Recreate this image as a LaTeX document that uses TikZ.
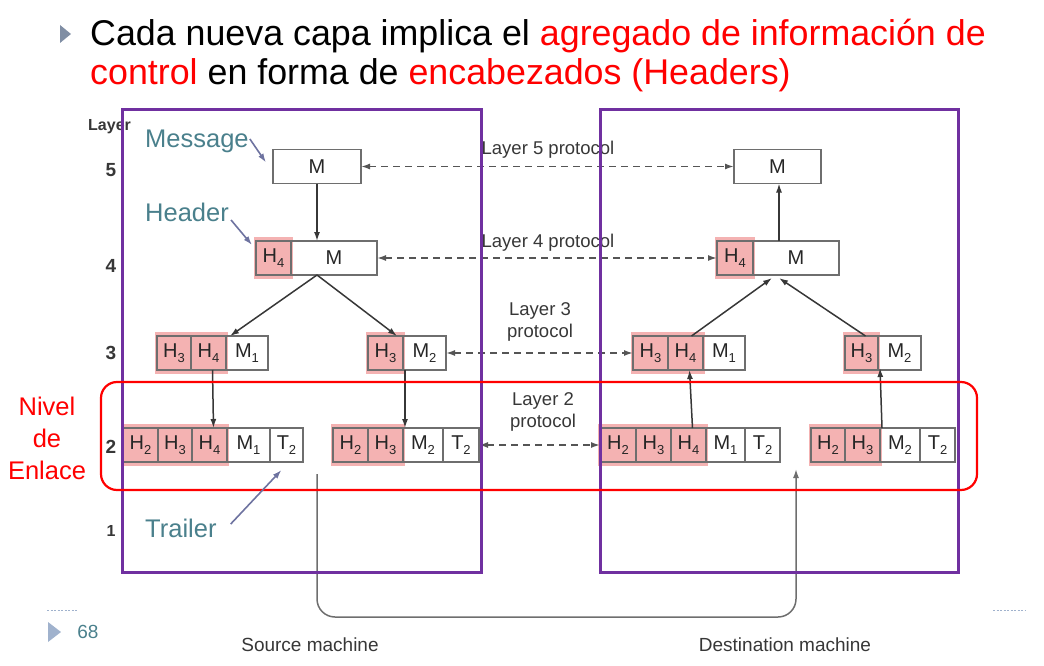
\documentclass[tikz,border=0pt]{standalone}
\usepackage{fontspec}
\setmainfont{Liberation Sans}
\usetikzlibrary{arrows.meta,backgrounds}

\definecolor{framepurple}{RGB}{112,48,160}
\definecolor{notered}{RGB}{255,0,0}
\definecolor{noteteal}{RGB}{74,128,140}
\definecolor{notearrow}{RGB}{110,115,160}
\definecolor{hlpink}{RGB}{244,178,178}
\definecolor{cellgray}{RGB}{110,110,110}
\definecolor{inkgray}{RGB}{55,55,55}
\definecolor{footblue}{RGB}{160,178,205}

\newcommand\sub[1]{\raisebox{-0.45ex}{\fontsize{13}{13}\selectfont #1}}
% plain cell: name, left x, right x, centre y, text
\newcommand\cellbox[5]{\node[cell,minimum width={#3pt-#2pt}] (#1) at ({(#2+#3)/2},#4) {#5};}
% header cell with pink highlight behind it
\newcommand\hdbox[5]{\cellbox{#1}{#2}{#3}{#4}{#5}%
  \begin{scope}[on background layer]
    \fill[hlpink] ([shift={(-2pt,4pt)}]#1.north west) rectangle ([shift={(2pt,-4pt)}]#1.south east);
  \end{scope}}

\tikzset{
  cell/.style={draw=cellgray, line width=1.8pt, minimum height=34pt, inner sep=0pt,
    outer sep=0pt, font=\fontsize{20}{20}\selectfont, text=black!85},
  flow/.style={draw=inkgray, line width=1.5pt, -{Latex[length=9pt,width=6pt]}},
  peer/.style={draw=inkgray!85, line width=1.6pt, dash pattern=on 7pt off 5pt,
    {Latex[length=9pt,width=6pt]}-{Latex[length=9pt,width=6pt]}},
  proto/.style={font=\fontsize{18.5}{22}\selectfont, text=inkgray, align=center},
  laynum/.style={font=\fontsize{19}{19}\selectfont\bfseries, text=inkgray},
  note/.style={font=\fontsize{25.5}{25.5}\selectfont, text=noteteal, inner sep=0pt},
  notearr/.style={draw=notearrow, line width=1.6pt, -{Latex[length=9pt,width=6pt]}},
  machine/.style={draw=framepurple, line width=3pt},
}

\begin{document}
\begin{tikzpicture}[x=1pt,y=-1pt]
\useasboundingbox (0,0) rectangle (1044,666);

% title bullet and text
\fill[footblue!80!black] (60,25) -- (71,34) -- (60,43) -- cycle;
\node[anchor=base west, inner sep=0pt, font=\fontsize{35.8}{35.8}\selectfont] (t1) at (90,46)
  {Cada nueva capa implica el \textcolor{notered}{agregado de información de}};
\node[anchor=base west, inner sep=0pt, font=\fontsize{35.8}{35.8}\selectfont] (t2) at (90,85)
  {\textcolor{notered}{control} en forma de \textcolor{notered}{encabezados (Headers)}};

% layer numbers
\node[laynum, anchor=west, inner sep=0pt, font=\fontsize{16}{16}\selectfont\bfseries] (lay) at (88,127) {Layer};
\node[laynum] (n5) at (111,170) {5};
\node[laynum] (n4) at (111,266) {4};
\node[laynum] (n3) at (111,353) {3};
\node[laynum] (n2) at (111,447) {2};
\node[laynum, font=\fontsize{16}{16}\selectfont\bfseries] (n1) at (111,531) {1};

% source machine stack
\cellbox{s5}{273}{361}{166.5}{M}
\hdbox{s4h}{256}{291}{258}{H\sub{4}}
\cellbox{s4m}{291}{377}{258}{M}
\hdbox{s3a3}{157}{191}{353}{H\sub{3}}
\hdbox{s3a4}{191}{226}{353}{H\sub{4}}
\cellbox{s3am}{226}{268}{353}{M\sub{1}}
\hdbox{s3b3}{368}{403}{353}{H\sub{3}}
\cellbox{s3bm}{403}{446}{353}{M\sub{2}}
\hdbox{s2a2}{123}{158}{445}{H\sub{2}}
\hdbox{s2a3}{158}{192}{445}{H\sub{3}}
\hdbox{s2a4}{192}{227}{445}{H\sub{4}}
\cellbox{s2am}{227}{270}{445}{M\sub{1}}
\cellbox{s2at}{270}{303}{445}{T\sub{2}}
\hdbox{s2b2}{333}{368}{445}{H\sub{2}}
\hdbox{s2b3}{368}{403}{445}{H\sub{3}}
\cellbox{s2bm}{403}{443}{445}{M\sub{2}}
\cellbox{s2bt}{443}{479}{445}{T\sub{2}}

% destination machine stack
\cellbox{d5}{734}{821}{166.5}{M}
\hdbox{d4h}{717}{753}{258}{H\sub{4}}
\cellbox{d4m}{753}{839}{258}{M}
\hdbox{d3a3}{633}{668}{353}{H\sub{3}}
\hdbox{d3a4}{668}{703}{353}{H\sub{4}}
\cellbox{d3am}{703}{745}{353}{M\sub{1}}
\hdbox{d3b3}{845}{878}{353}{H\sub{3}}
\cellbox{d3bm}{878}{921}{353}{M\sub{2}}
\hdbox{d2a2}{600}{636}{445}{H\sub{2}}
\hdbox{d2a3}{636}{671}{445}{H\sub{3}}
\hdbox{d2a4}{671}{706}{445}{H\sub{4}}
\cellbox{d2am}{706}{745}{445}{M\sub{1}}
\cellbox{d2at}{745}{780}{445}{T\sub{2}}
\hdbox{d2b2}{811}{845}{445}{H\sub{2}}
\hdbox{d2b3}{845}{880}{445}{H\sub{3}}
\cellbox{d2bm}{880}{920}{445}{M\sub{2}}
\cellbox{d2bt}{920}{955}{445}{T\sub{2}}

% downward flow in the source machine
\coordinate (sfork) at (s5.south |- s4m.south);
\draw[flow] (s5.south) -- (s5.south |- s4m.north);
\draw[flow] (sfork) -- ([xshift=4pt]s3a4.north east);
\draw[flow] (sfork) -- ([xshift=-6pt]s3b3.north east);
\draw[flow] ([xshift=4pt]s3a4.south) -- ([xshift=4pt]s2a4.north);
\draw[flow] ([xshift=2pt]s3b3.south east) -- ([xshift=2pt]s2b3.north east);

% upward flow in the destination machine
\coordinate (dforkl) at ([xshift=19pt,yshift=-3pt]d4m.south west);
\coordinate (dforkr) at ([xshift=26pt,yshift=-3pt]d4m.south west);
\draw[flow] ([xshift=4pt]d2a4.north) -- ([xshift=4pt]d3a4.south);
\draw[flow] ([xshift=2pt]d2b3.north east) -- ([xshift=2pt,yshift=2pt]d3b3.south east);
\draw[flow] ([xshift=6pt]d3a4.north) -- (dforkl);
\draw[flow] ([xshift=4pt]d3b3.north) -- (dforkr);
\draw[flow] (dforkr |- d4m.north) -- (dforkr |- d5.south);

% peer protocols
\draw[peer] (s5.east) -- (d5.west);
\draw[peer] (s4m.east) -- (d4h.west);
\draw[peer] (s3bm.east) -- (d3a3.west);
\draw[peer] (s2bt.east) -- (d2a2.west);
\node[proto] (p5) at (548,150) {Layer 5 protocol};
\node[proto] (p4) at (548,243) {Layer 4 protocol};
\node[proto] (p3) at (540,322) {Layer 3\\protocol};
\node[proto] (p2) at (543,412) {Layer 2\\protocol};

% physical medium
\coordinate (phys0) at (317,474);
\coordinate (phys1) at (796,469);
\draw[flow, draw=cellgray, rounded corners=18pt] (phys0) -- (317,617) -- (796,617) -- (phys1);
\node[font=\fontsize{19}{19}\selectfont, text=inkgray] (srcm) at (310,645) {Source machine};
\node[font=\fontsize{19}{19}\selectfont, text=inkgray] (dstm) at (785,645) {Destination machine};

% machine frames and data link band
\draw[machine] (122,110) rectangle (481,572);
\draw[machine] (600,110) rectangle (958,572);
\draw[draw=notered, line width=2.2pt, rounded corners=16pt] (101,382) rectangle (977,490);
\node[text=notered, align=center, font=\fontsize{25.5}{32}\selectfont] (link) at (47,438) {Nivel\\de\\Enlace};

% annotations
\node[note, anchor=west] (msg) at (145,141) {Message};
\node[note, anchor=west] (hdr) at (145,212) {Header};
\node[note, anchor=west] (trl) at (145,528) {Trailer};
\draw[notearr] ([xshift=1pt,yshift=2pt]msg.east) -- ([xshift=-7pt,yshift=4pt]s5.west);
\draw[notearr] ([xshift=2pt,yshift=-8pt]hdr.east) -- ([xshift=-4pt,yshift=-4pt]s4h.north west);
\draw[notearr] ([xshift=14pt,yshift=4pt]trl.east) -- ([xshift=-5pt,yshift=-8pt]s2at.south);

% slide footer
\draw[footblue, line width=1pt, dash pattern=on 2pt off 1.5pt] (47,610) -- (77,610);
\draw[footblue, line width=1pt, dash pattern=on 2pt off 1.5pt] (993,610) -- (1025,610);
\fill[footblue] (48,622) -- (61,632) -- (48,642) -- cycle;
\node[font=\fontsize{19}{19}\selectfont, text=noteteal] (pg) at (88,632) {68};
\end{tikzpicture}
\end{document}
